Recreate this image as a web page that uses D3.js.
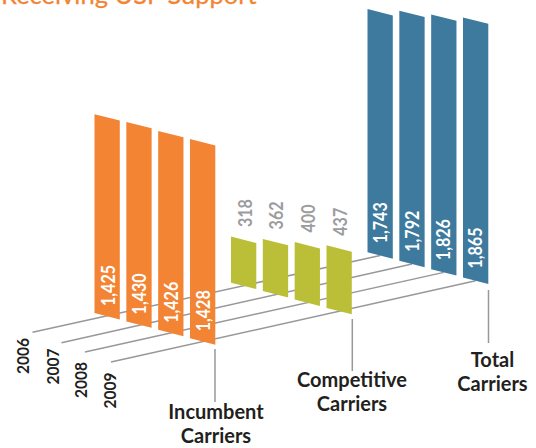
<!DOCTYPE html>
<html><head><meta charset="utf-8">
<script src="https://cdn.jsdelivr.net/npm/d3@7/dist/d3.min.js"></script>
<style>html,body{margin:0;padding:0;background:#fff}svg{display:block}text{font-family:Lato,sans-serif}</style>
</head><body><svg id="c" width="536" height="448"></svg>
<script>
const title = "Receiving USF Support";
const years = ["2006","2007","2008","2009"];
const categories = ["Incumbent","Competitive","Total"];
const incumbent = [1425,1430,1426,1428];
const competitive = [318,362,400,437];
const total = [1743,1792,1826,1865];
const categoryLabels = [["Incumbent","Carriers"],["Competitive","Carriers"],["Total","Carriers"]];
const series = [incumbent,competitive,total];
const colors = ["#f28434","#bbbf38","#3d7a9e"];

const svg = d3.select("#c");
const h = d3.scaleLinear().domain([0,1865]).range([0,260.2]);
const yearX = d3.scalePoint().domain(years).range([0,95.5]);
const yearY = d3.scalePoint().domain(years).range([0,25.3]);
const catX = d3.scalePoint().domain(categories).range([94.5,367.5]);
const catY = d3.scalePoint().domain(categories).range([313,252.3]);
const barW = 25.3, skew = 6.4;
const catPad = [0,1.7,0];
const bx = (c,y)=>catX(c)+yearX(y);
const by = (c,y)=>catY(c)+yearY(y);

// year floor lines
const lineStarts = [[32.5,332.3],[61.5,342.7],[85,352],[111,362]];
const lineG = svg.append("g").attr("stroke","#98989a").attr("stroke-width",1.5);
years.forEach((y,i)=>{
  lineG.append("line").attr("x1",lineStarts[i][0]).attr("y1",lineStarts[i][1])
    .attr("x2",bx("Total",y)+barW/2).attr("y2",by("Total",y)+skew/2);
});

// bars
const labelDx=[7.5,8,6.6], labelDy=[7,0,9];
categories.forEach((c,ci)=>{
  years.forEach((y,yi)=>{
    const x=bx(c,y), b=by(c,y), t=b-h(series[ci][yi])-catPad[ci];
    svg.append("path").attr("fill",colors[ci])
      .attr("d",`M${x},${t}L${x+barW},${t+skew}L${x+barW},${b+skew}L${x},${b}Z`);
    const inside = ci!==1;
    const lx=x+barW/2+labelDx[ci], ly = inside ? b-labelDy[ci] : t-9.5;
    svg.append("text").attr("transform",`translate(${lx},${ly}) rotate(-90) scale(0.87,1)`)
      .attr("fill",inside?"#fff":"#9c9c9e").attr("font-size",18.5).attr("font-weight",700)
      .text(d3.format(",")(series[ci][yi]));
  });
});

// year labels
const yearLabelX=[29,58.5,87,116], yearLabelY=[374,384.5,398,408.5];
years.forEach((y,i)=>{
  svg.append("text").attr("transform",`translate(${yearLabelX[i]},${yearLabelY[i]}) rotate(-90) scale(0.94,1)`)
    .attr("fill","#231f20").attr("font-size",16.5).attr("font-weight",700).text(y);
});

// category leaders + labels
const leader=[[215,349,402],[352.3,319,371],[488.5,290,343]];
const labelX=[216,352,492.5], labelY=[[419,442.5],[386.5,410.5],[366.5,390.5]];
categories.forEach((c,i)=>{
  svg.append("line").attr("x1",leader[i][0]).attr("x2",leader[i][0])
    .attr("y1",leader[i][1]).attr("y2",leader[i][2]).attr("stroke","#98989a").attr("stroke-width",1.5);
  categoryLabels[i].forEach((t,j)=>{
    svg.append("text").attr("x",labelX[i]).attr("y",labelY[i][j]).attr("text-anchor","middle")
      .attr("fill","#231f20").attr("font-size",20).attr("font-weight",700).text(t);
  });
});

svg.append("text").attr("x",1).attr("y",4).attr("fill","#f28434").attr("stroke","#f28434").attr("stroke-width",0.25).attr("font-size",25.5).text(title);
</script></body></html>
